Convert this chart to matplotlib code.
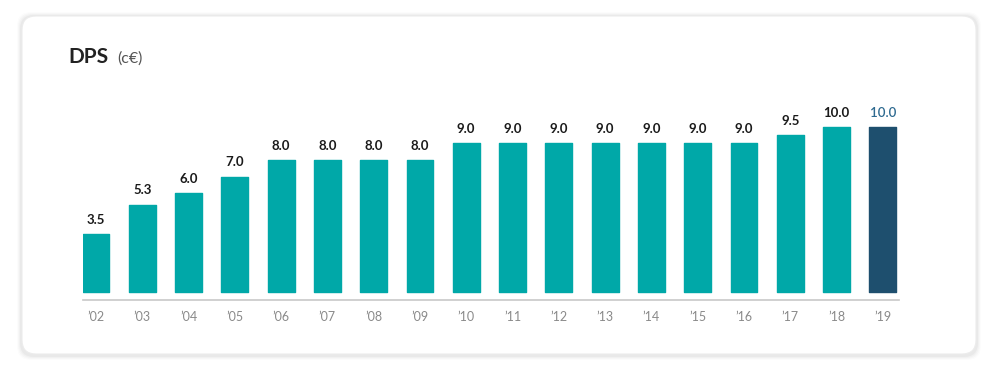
import matplotlib
matplotlib.use("Agg")
import matplotlib.pyplot as plt
from matplotlib.patches import FancyBboxPatch

years = ["’02", "’03", "’04", "’05", "’06", "’07", "’08", "’09", "’10",
         "’11", "’12", "’13", "’14", "’15", "’16", "’17", "’18", "’19"]
dps = [3.5, 5.3, 6.0, 7.0, 8.0, 8.0, 8.0, 8.0, 9.0,
       9.0, 9.0, 9.0, 9.0, 9.0, 9.0, 9.5, 10.0, 10.0]
labels = ["3.5", "5.3", "6.0", "7.0", "8.0", "8.0", "8.0", "8.0", "9.0",
          "9.0", "9.0", "9.0", "9.0", "9.0", "9.0", "9.5", "10.0", "10.0"]

TEAL = "#00a8a8"
NAVY = "#1e4f6e"
plt.rcParams['font.family'] = ['Lato', 'DejaVu Sans']

W, H = 1000, 380
fig = plt.figure(figsize=(10, 3.8), dpi=100)
fig.patch.set_facecolor("white")

# card with soft shadow
for i, a in enumerate([0.012, 0.018, 0.025, 0.032]):
    g = 5 - i
    sh = FancyBboxPatch(((22 - g) / W, 1 - (354 + g + 1) / H), (954 + 2 * g) / W, (338 + 2 * g) / H,
                        boxstyle="round,pad=0,rounding_size=0.014", transform=fig.transFigure,
                        facecolor="black", edgecolor="none", alpha=a, mutation_aspect=W / H,
                        zorder=-20)
    fig.add_artist(sh)
card = FancyBboxPatch((22 / W, 1 - 354 / H), 954 / W, 338 / H,
                      boxstyle="round,pad=0,rounding_size=0.014", transform=fig.transFigure,
                      facecolor="white", edgecolor="#ececec", linewidth=0.8, mutation_aspect=W / H,
                      zorder=-10)
fig.add_artist(card)

fig.text(68 / W, 1 - 57 / H, "DPS", fontsize=15, fontweight="bold", color="#222222",
         va="center", ha="left", zorder=5)
fig.text(117 / W, 1 - 59 / H, "(c€)", fontsize=11.5, color="#555555", va="center", ha="left", zorder=5)

ax = fig.add_axes([83 / W, 80 / H, 816 / W, 210 / H])
ax.set_zorder(5)
ax.set_facecolor("none")
x = list(range(len(dps)))
colors = [TEAL] * (len(dps) - 1) + [NAVY]
ax.bar(x, dps, width=0.58, color=colors, edgecolor=colors, linewidth=1.0, joinstyle="round")
ax.set_xlim(-0.28, 17.35)
ax.set_ylim(-0.48, 12.24)

for i, (v, lab) in enumerate(zip(dps, labels)):
    last = i == len(dps) - 1
    ax.annotate(lab, (i, v), xytext=(0, 6), textcoords="offset points", ha="center", va="bottom",
                fontsize=9.5, fontweight="semibold" if last else "bold",
                color="#2e6a90" if last else "#1a1a1a")

for s in ["top", "right", "left"]:
    ax.spines[s].set_visible(False)
ax.spines["bottom"].set_color("#c8c8c8")
ax.spines["bottom"].set_linewidth(1.2)
ax.set_yticks([])
ax.set_xticks(x)
ax.set_xticklabels(years, fontsize=9, color="#8a8a8a")
ax.tick_params(axis="x", length=0, pad=8)

fig.savefig("out.png", dpi=100, facecolor="white")
